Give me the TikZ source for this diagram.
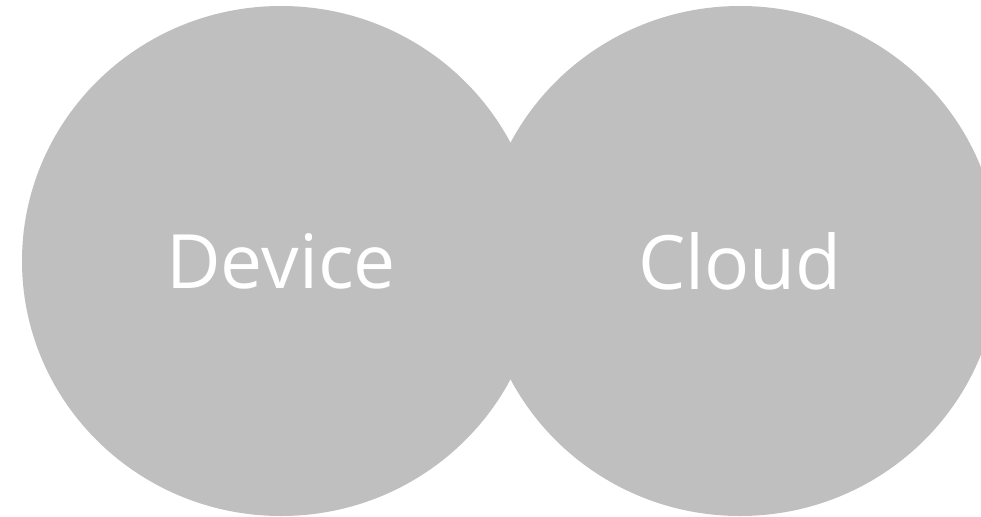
\documentclass[tikz,border=0pt]{standalone}
\usepackage{fontspec}
\setmainfont{Open Sans}
\usetikzlibrary{shapes.geometric}

\definecolor{blobgray}{RGB}{191,191,191}

\begin{document}
\begin{tikzpicture}[
		x=1pt, y=-1pt,
		% Style for the two overlapping discs
		blob/.style={
			ellipse, fill=blobgray, inner sep=0pt,
			minimum width=518pt, minimum height=510pt,
			text=white, font=\fontsize{75}{88}\selectfont
		}
		]
	\useasboundingbox (0,0) rectangle (981,516);

	% Left and right discs with their labels
	\node[blob] (device) at (281, 261) {Device};
	\node[blob] (cloud) at (740, 261) {Cloud};
\end{tikzpicture}
\end{document}
